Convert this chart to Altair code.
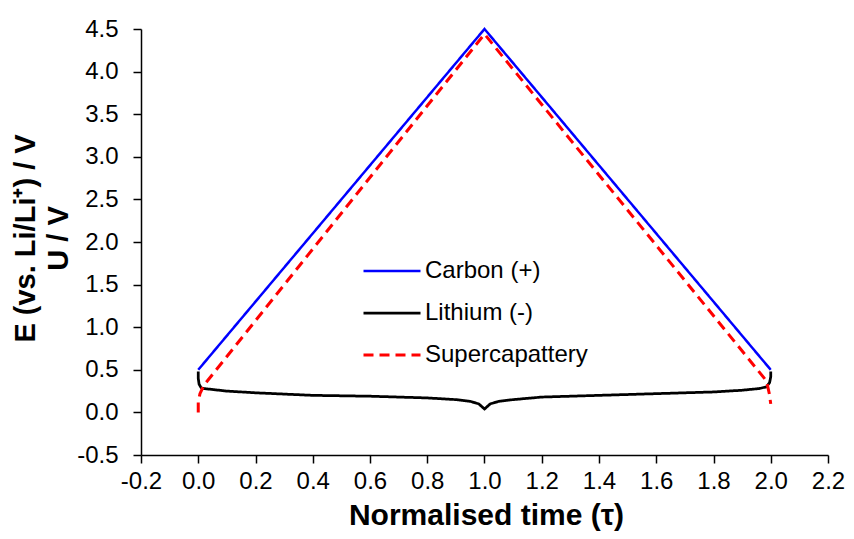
import altair as alt
import pandas as pd

# ---- data ----
series_names = ["Carbon (+)", "Lithium (-)", "Supercapattery"]
series_colors = ["#0000FF", "#000000", "#FF0000"]
series_dash = [[1, 0], [1, 0], [10, 6]]
series_width = [2.5, 3.0, 3.5]

carbon_x = [0.0, 1.0, 2.0]
carbon_y = [0.5, 4.5, 0.5]

lithium_x = [0.0, 0.0, 0.003, 0.01, 0.02, 0.1, 0.2, 0.4, 0.6, 0.8, 0.9, 0.95,
             0.98, 1.0, 1.02, 1.05, 1.1, 1.2, 1.4, 1.6, 1.8, 1.9, 1.96, 1.985,
             1.996, 2.0, 2.0]
lithium_y = [0.48, 0.40, 0.33, 0.29, 0.28, 0.25, 0.23, 0.20, 0.19, 0.17, 0.15,
             0.13, 0.10, 0.04, 0.10, 0.13, 0.15, 0.18, 0.20, 0.22, 0.24, 0.26,
             0.28, 0.30, 0.35, 0.42, 0.48]

super_x = [0.0, 0.0, 0.006, 0.02, 1.0, 1.985, 1.995, 2.0]
super_y = [0.0, 0.12, 0.22, 0.32, 4.44, 0.37, 0.22, 0.10]

x_ticks = [-0.2, 0.0, 0.2, 0.4, 0.6, 0.8, 1.0, 1.2, 1.4, 1.6, 1.8, 2.0, 2.2]
y_ticks = [-0.5, 0.0, 0.5, 1.0, 1.5, 2.0, 2.5, 3.0, 3.5, 4.0, 4.5]

x_title = "Normalised time (τ)"
y_title = ["E (vs. Li/Li⁺) / V", "U / V"]

rows = []
for name, xs, ys in zip(series_names,
                        [carbon_x, lithium_x, super_x],
                        [carbon_y, lithium_y, super_y]):
    for i, (xv, yv) in enumerate(zip(xs, ys)):
        rows.append({"series": name, "t": xv, "E": yv, "idx": i})
df = pd.DataFrame(rows)

FONT = "Liberation Sans"
label_expr = "replace(format(datum.value, '.1f'), '\u2212', '-')"

legend_kw = dict(title=None, orient="none", legendX=221, legendY=212,
                 symbolType="stroke", symbolSize=3249, symbolStrokeWidth=3,
                 rowPadding=-17, labelOffset=3, labelFontSize=24,
                 labelFont=FONT, labelColor="black", labelLimit=0, padding=0)

lines = alt.Chart(df).mark_line().encode(
    x=alt.X("t:Q",
            scale=alt.Scale(domain=[-0.2, 2.2], nice=False, zero=False),
            axis=alt.Axis(values=x_ticks, labelExpr=label_expr,
                          labelOverlap=False, labelFlush=False,
                          title=x_title, titleX=345, titleY=60,
                          titleFontSize=30,
                          titleBaseline="middle", titleAlign="center",
                          labelPadding=6)),
    y=alt.Y("E:Q",
            scale=alt.Scale(domain=[-0.5, 4.5], nice=False, zero=False),
            axis=alt.Axis(values=y_ticks, labelExpr=label_expr,
                          labelOverlap=False, labelFlush=False,
                          title=y_title, titleX=-116, titleY=209,
                          titleFontSize=29, titleLineHeight=33,
                          titleAngle=270, titleBaseline="middle",
                          titleAlign="center", labelPadding=15)),
    color=alt.Color("series:N",
                    scale=alt.Scale(domain=series_names, range=series_colors),
                    legend=alt.Legend(**legend_kw)),
    strokeDash=alt.StrokeDash("series:N",
                              scale=alt.Scale(domain=series_names, range=series_dash),
                              legend=alt.Legend(**legend_kw)),
    strokeWidth=alt.StrokeWidth("series:N",
                                scale=alt.Scale(domain=series_names, range=series_width),
                                legend=None),
    order="idx:Q",
)

chart = lines.properties(
    width=687, height=426,
    autosize=alt.AutoSizeParams(type="none"),
    padding={"left": 133, "top": 21, "right": 18, "bottom": 76},
).configure_view(stroke=None).configure_axis(
    grid=False, domainColor="black", domainWidth=1.5, tickColor="black",
    tickWidth=1.5, tickSize=8, labelFont=FONT, labelFontSize=24,
    labelColor="black", titleFont=FONT,
    titleFontWeight="bold", titleColor="black",
)

chart.save("out.html", embed_options={"renderer": "svg", "actions": False})
